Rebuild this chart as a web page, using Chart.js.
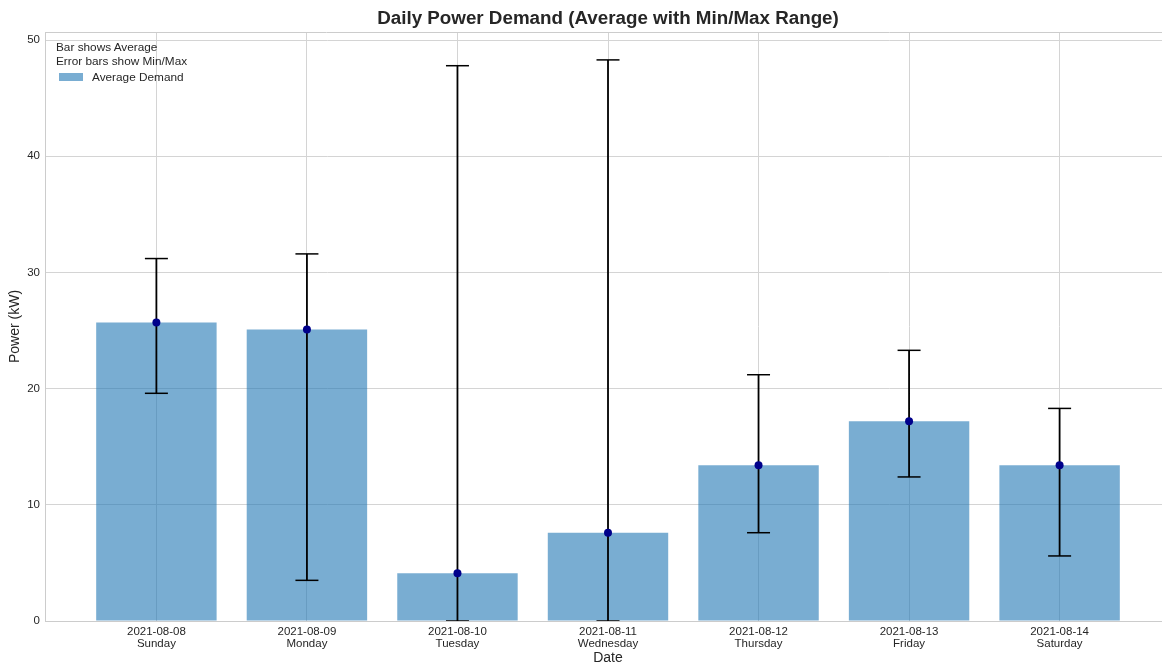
<!DOCTYPE html>
<html>
<head>
<meta charset="utf-8">
<title>Daily Power Demand</title>
<script src="https://cdn.jsdelivr.net/npm/chart.js@4.4.1/dist/chart.umd.min.js"></script>
<style>
    html, body { margin: 0; padding: 0; background: #fff; overflow: hidden; }
    #wrap { position: relative; width: 1171px; height: 680px; }
    #legend {
        position: absolute; left: 56px; top: 40px;
        font-family: "Liberation Sans", Arial, sans-serif; font-size: 11.8px; color: #262626;
        line-height: 14px;
    }
    #legend .item { margin-top: 2px; height: 14px; position: relative; }
    #legend .patch { position: absolute; left: 3px; top: 3px; width: 24px; height: 8px; background: rgba(31,119,180,0.6); }
    #legend .lbl { position: absolute; left: 36px; top: 0; white-space: nowrap; }
</style>
</head>
<body>
<div id="wrap">
    <canvas id="chart" width="1171" height="680"></canvas>
    <div id="legend">
        <div>Bar shows Average</div>
        <div>Error bars show Min/Max</div>
        <div class="item"><span class="patch"></span><span class="lbl">Average Demand</span></div>
    </div>
</div>
<script>
    // data
    const dates = ['2021-08-08', '2021-08-09', '2021-08-10', '2021-08-11', '2021-08-12', '2021-08-13', '2021-08-14'];
    const weekdays = ['Sunday', 'Monday', 'Tuesday', 'Wednesday', 'Thursday', 'Friday', 'Saturday'];
    const avgDemand = [25.7, 25.1, 4.1, 7.6, 13.4, 17.2, 13.4];
    const minDemand = [19.6, 3.5, 0, 0, 7.6, 12.4, 5.6];
    const maxDemand = [31.2, 31.6, 47.8, 48.3, 21.2, 23.3, 18.3];
    const yTicks = [0, 10, 20, 30, 40, 50];

    const FONT = '"Liberation Sans", Arial, sans-serif';
    const gridColor = '#d4d4d4';
    const textColor = '#262626';

    // build points for bars, error bars, caps
    let barPts = [], whiskerPts = [], capPts = [], avgPts = [];
    for (let i = 0; i < dates.length; i++) {
        barPts.push({x: i, y: avgDemand[i]});
        avgPts.push({x: i, y: avgDemand[i]});
        whiskerPts.push({x: i, y: minDemand[i]});
        whiskerPts.push({x: i, y: maxDemand[i]});
        whiskerPts.push({x: i, y: null});
        capPts.push({x: i, y: minDemand[i]});
        capPts.push({x: i, y: maxDemand[i]});
    }

    // light frame line along the top of the plot
    const framePlugin = {
        id: 'frame',
        beforeDatasetsDraw(chart) {
            const a = chart.chartArea, ctx = chart.ctx;
            ctx.save();
            ctx.strokeStyle = '#cccccc';
            ctx.lineWidth = 1;
            ctx.beginPath();
            ctx.moveTo(a.left, a.top + 0.5);
            ctx.lineTo(a.right, a.top + 0.5);
            ctx.stroke();
            ctx.restore();
        }
    };

    new Chart(document.getElementById('chart'), {
        type: 'bar',
        data: {
            datasets: [
                {
                    type: 'line',
                    label: 'Average points',
                    data: avgPts,
                    showLine: false,
                    pointRadius: 4,
                    pointBackgroundColor: '#00008b',
                    pointBorderColor: '#00008b',
                    pointBorderWidth: 0,
                    order: 0
                },
                {
                    type: 'line',
                    label: 'Caps',
                    data: capPts,
                    showLine: false,
                    pointStyle: 'line',
                    pointRadius: 11.5,
                    pointBorderColor: '#000',
                    pointBorderWidth: 1.5,
                    clip: 0,
                    order: 1
                },
                {
                    type: 'line',
                    label: 'Range',
                    data: whiskerPts,
                    spanGaps: false,
                    borderColor: '#000',
                    borderWidth: 1.8,
                    pointRadius: 0,
                    order: 2
                },
                {
                    type: 'bar',
                    label: 'Average Demand',
                    data: barPts,
                    backgroundColor: 'rgba(31,119,180,0.6)',
                    borderWidth: 0,
                    barPercentage: 0.8,
                    categoryPercentage: 1.0,
                    order: 3
                }
            ]
        },
        options: {
            responsive: false,
            animation: false,
            layout: { padding: 0, autoPadding: false },
            plugins: {
                legend: { display: false },
                tooltip: { enabled: false },
                title: {
                    display: true,
                    fullSize: false,
                    text: 'Daily Power Demand (Average with Min/Max Range)',
                    color: textColor,
                    font: { family: FONT, size: 18.8, weight: 'bold', lineHeight: 1.15 },
                    padding: { top: 8, bottom: 2.4 }
                }
            },
            scales: {
                x: {
                    type: 'linear',
                    min: -0.74,
                    max: 6.74,
                    offset: false,
                    afterBuildTicks: s => { s.ticks = dates.map((d, i) => ({value: i})); },
                    afterFit: s => { s.height = 59; s.paddingLeft = 0; s.paddingRight = 0; },
                    grid: { color: gridColor, drawTicks: false, offset: false },
                    border: { color: '#cccccc' },
                    ticks: {
                        color: textColor,
                        font: { family: FONT, size: 11.5, lineHeight: 1.05 },
                        padding: 5,
                        maxRotation: 0,
                        autoSkip: false,
                        callback: v => [dates[v], weekdays[v]]
                    },
                    title: {
                        display: true,
                        text: 'Date',
                        color: textColor,
                        font: { family: FONT, size: 14, lineHeight: 1.2 },
                        padding: { top: 0, bottom: 13 }
                    }
                },
                y: {
                    min: 0,
                    max: 50.7,
                    afterBuildTicks: s => { s.ticks = yTicks.map(v => ({value: v})); },
                    afterFit: s => { s.width = 45; s.paddingTop = 0; s.paddingBottom = 0; },
                    grid: { color: gridColor, drawTicks: false },
                    border: { color: '#cccccc' },
                    ticks: {
                        color: textColor,
                        font: { family: FONT, size: 11.5 },
                        padding: 5
                    },
                    title: {
                        display: true,
                        text: 'Power (kW)',
                        color: textColor,
                        font: { family: FONT, size: 14, lineHeight: 1.2 },
                        padding: { top: 7, bottom: 0 }
                    }
                }
            }
        },
        plugins: [framePlugin]
    });
</script>
</body>
</html>
